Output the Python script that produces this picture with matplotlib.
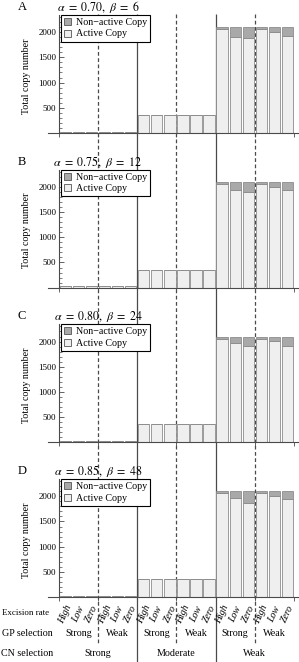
import matplotlib
matplotlib.use("Agg")
import matplotlib.pyplot as plt
from matplotlib.patches import Patch
from matplotlib.ticker import MultipleLocator
import numpy as np

plt.rcParams['font.family'] = ['Liberation Serif', 'DejaVu Serif']
plt.rcParams['mathtext.fontset'] = 'stix'

# data
excision = ['High', 'Low', 'Zero'] * 6
gp_selection = ['Strong', 'Weak']
cn_selection = ['Strong', 'Moderate', 'Weak']
panel_letters = ['A', 'B', 'C', 'D']
alphas = [0.70, 0.75, 0.80, 0.85]
betas = [6, 12, 24, 48]

total_strong = [25, 25, 25, 25, 25, 25]
total_moderate = [360, 360, 360, 360, 360, 360]
total_weak = [2100, 2100, 2100, 2100, 2100, 2100]

nonactive_A = [0] * 12 + [45, 190, 225, 45, 105, 180]
nonactive_B = [0] * 12 + [35, 160, 210, 35, 110, 160]
nonactive_C = [0] * 12 + [40, 120, 185, 40, 90, 185]
nonactive_D = [0] * 12 + [45, 130, 225, 35, 100, 160]
nonactive_all = [nonactive_A, nonactive_B, nonactive_C, nonactive_D]

NON_COL = '#a9a9a9'
ACT_COL = '#efefef'
EDGE = '#8c8c8c'
LINE = '#4a4a4a'

W, H = 299, 662
fig = plt.figure(figsize=(W / 100, H / 100), dpi=100)

def fx(px):
    return px / W

def fy(py):
    return 1 - py / H

XLIM = (-0.85, 18.4)
LEFT = 48

# overlay for separators and bottom labels
over = fig.add_axes([fx(LEFT), 0, 1 - fx(LEFT), 1])
over.set_xlim(XLIM)
over.set_ylim(H, 0)
over.axis('off')
over.vlines([6, 12], 14, H, color=LINE, lw=0.9)
over.vlines([3, 9, 15], 14, 643, color=LINE, lw=0.9, linestyles=(0, (3, 2)))

total = np.array(total_strong + total_moderate + total_weak)
x = np.arange(18) + 0.5

for k in range(4):
    bottom = 133 + 154.7 * k
    top = bottom - 118
    ax = fig.add_axes([fx(LEFT), fy(bottom), 1 - fx(LEFT), 118 / H])
    ax.patch.set_alpha(0)
    non = np.array(nonactive_all[k])
    act = total - non
    ax.bar(x, act, width=0.86, color=ACT_COL, edgecolor=EDGE, lw=0.6)
    ax.bar(x, non, bottom=act, width=0.86, color=NON_COL, edgecolor=EDGE, lw=0.6)
    ax.set_xlim(XLIM)
    ax.set_ylim(0, 2340)
    for s in ['top', 'right']:
        ax.spines[s].set_visible(False)
    ax.spines['left'].set_position(('data', 0))
    for s in ['left', 'bottom']:
        ax.spines[s].set_color(LINE)
        ax.spines[s].set_linewidth(0.8)
    ax.set_yticks([500, 1000, 1500, 2000])
    ax.yaxis.set_minor_locator(MultipleLocator(100))
    ax.tick_params(axis='y', which='major', direction='in', length=3.5, width=0.6,
                   labelsize=6.5, pad=2, color=LINE)
    ax.tick_params(axis='y', which='minor', direction='in', length=1.8, width=0.5, color=LINE)
    ax.set_xticks(range(0, 19, 3))
    ax.set_xticklabels([])
    ax.tick_params(axis='x', direction='out', length=3, width=0.6, color=LINE)

    handles = [Patch(facecolor=NON_COL, edgecolor='#555555', lw=0.6),
               Patch(facecolor=ACT_COL, edgecolor='#555555', lw=0.6)]
    leg = ax.legend(handles, ['Non\u2212active Copy', 'Active Copy'], loc='upper left',
                    bbox_to_anchor=((61 - LEFT) / (W - LEFT), 1.0), borderaxespad=0,
                    fontsize=7.2, handlelength=0.7, handleheight=0.7, handletextpad=0.5,
                    borderpad=0.3, labelspacing=0.25, fancybox=False, framealpha=1)
    leg.get_frame().set_edgecolor('black')
    leg.get_frame().set_linewidth(0.8)

    fig.text(fx(22), fy(top - 8), panel_letters[k], fontsize=9, ha='center', va='center')
    fig.text(fx(98), fy(top - 8),
             r'$\alpha\ =\ %.2f,\ \beta\ =\ %d$' % (alphas[k], betas[k]),
             fontsize=8.6, ha='center', va='center')
    fig.text(fx(27), fy(top + 61), 'Total copy number', rotation=90, fontsize=7.2,
             ha='center', va='center')

# bottom category labels
for i in range(18):
    over.text(x[i], 614, excision[i], rotation=65, style='italic', ha='center',
              va='center', fontsize=7)
for g in range(3):
    for j in range(2):
        over.text(6 * g + 3 * j + 1.5, 634, gp_selection[j], ha='center', va='center', fontsize=7.2)
    over.text(6 * g + 3, 654, cn_selection[g], ha='center', va='center', fontsize=7.2)

fig.text(fx(49), fy(613), 'Excision rate', ha='right', va='center', fontsize=6.4)
fig.text(fx(53), fy(634), 'GP selection', ha='right', va='center', fontsize=7.2)
fig.text(fx(53), fy(654), 'CN selection', ha='right', va='center', fontsize=7.2)

fig.savefig('out.png', dpi=100)
